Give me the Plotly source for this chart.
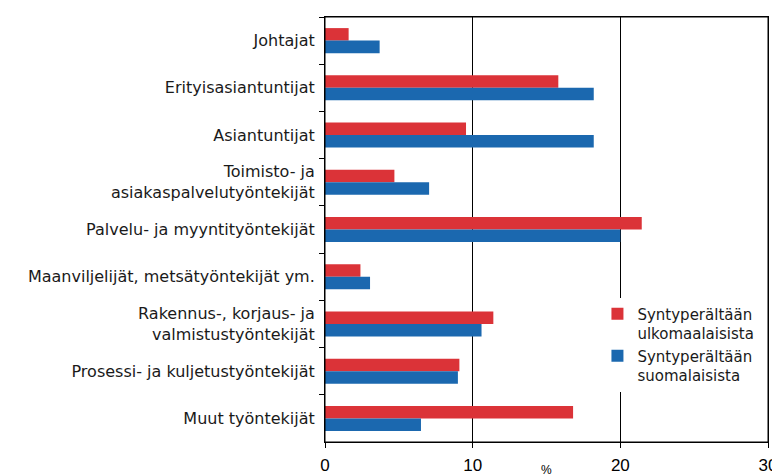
import plotly.graph_objects as go

categories = [
    "Johtajat",
    "Erityisasiantuntijat",
    "Asiantuntijat",
    "Toimisto- ja<br>asiakaspalvelutyöntekijät",
    "Palvelu- ja myyntityöntekijät",
    "Maanviljelijät, metsätyöntekijät ym.",
    "Rakennus-, korjaus- ja<br>valmistustyöntekijät",
    "Prosessi- ja kuljetustyöntekijät",
    "Muut työntekijät",
]
foreign_born = [1.6, 15.8, 9.55, 4.7, 21.45, 2.4, 11.4, 9.1, 16.8]
finnish_born = [3.7, 18.2, 18.2, 7.05, 20.0, 3.05, 10.6, 9.0, 6.5]
series_names = ["Syntyperältään<br>ulkomaalaisista", "Syntyperältään<br>suomalaisista"]
x_ticks = [0, 10, 20, 30]

RED = "#DB3338"
BLUE = "#1B68AF"
FONT = "Liberation Sans, Arial, sans-serif"
WIDE = "DejaVu Sans, Verdana, sans-serif"

fig = go.Figure()
fig.add_trace(go.Bar(y=categories, x=foreign_born, orientation="h", name=series_names[0],
                     marker=dict(color=RED, line=dict(width=0))))
fig.add_trace(go.Bar(y=categories, x=finnish_born, orientation="h", name=series_names[1],
                     marker=dict(color=BLUE, line=dict(width=0))))

# the page body adds an 8px offset, so the figure is 8px smaller than the window
fig.update_layout(
    width=772, height=468,
    margin=dict(l=317, r=12, t=9, b=34),
    paper_bgcolor="white", plot_bgcolor="white",
    barmode="group", bargap=0.47, bargroupgap=0,
    font=dict(family=FONT, color="#000000"),
    showlegend=True,
    legend=dict(x=0.615, y=0.34, xanchor="left", yanchor="top",
                bgcolor="white", font=dict(size=15, family=WIDE, color="#1a1a1a"),
                itemwidth=30, tracegroupgap=6, traceorder="normal", valign="top"),
    xaxis=dict(range=[0, 30], tickvals=x_ticks, ticktext=[str(v) for v in x_ticks],
               showgrid=True, gridcolor="#000000", gridwidth=1,
               showline=True, linecolor="#000000", linewidth=1, mirror=True,
               ticks="outside", ticklen=5, tickcolor="#000000", automargin=False,
               tickfont=dict(size=17, family=FONT), ticklabelstandoff=3,
               zeroline=False, fixedrange=True),
    yaxis=dict(autorange="reversed", type="category", tickson="boundaries",
               showgrid=False, showline=True, linecolor="#000000", linewidth=1, mirror=True,
               ticks="outside", ticklen=5, tickcolor="#000000", automargin=False,
               tickfont=dict(size=16, family=WIDE, color="#1a1a1a"), ticklabelstandoff=6),
    shapes=[dict(type="rect", xref="paper", yref="paper", x0=0, y0=0, x1=1, y1=1,
                 line=dict(color="#000000", width=1), fillcolor="rgba(0,0,0,0)", layer="above")],
)
fig.add_annotation(text="%", x=0.50, y=-0.045, xref="paper", yref="paper",
                   xanchor="center", yanchor="top", showarrow=False,
                   font=dict(size=12, family=FONT))

fig.write_html("out.html")
